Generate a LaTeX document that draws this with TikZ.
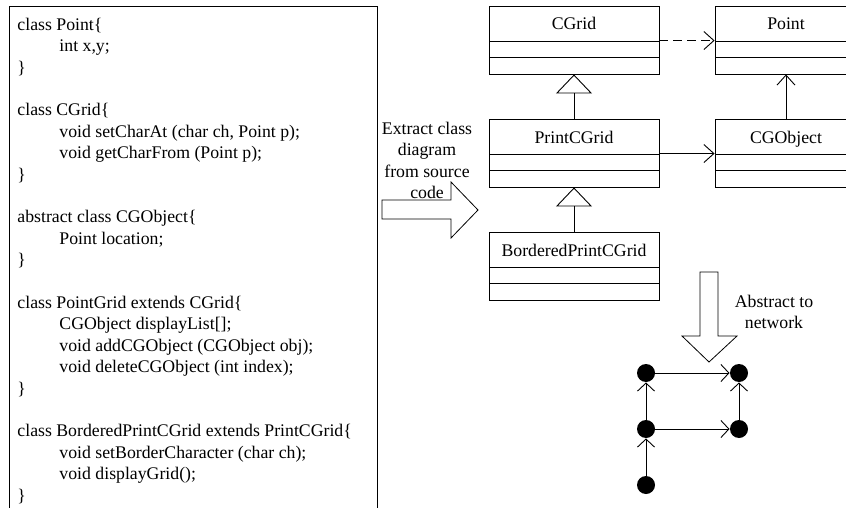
\documentclass[tikz,border=0pt]{standalone}
\usepackage{fontspec}
\setmainfont{Liberation Serif}
\usetikzlibrary{positioning, arrows.meta}
\tikzset{
  umlclass/.style={draw, minimum width=170pt, minimum height=68pt, inner ysep=0pt,
    text height=24pt, text depth=44pt, % puts the class name in the top part
    path picture={
      \draw ([yshift=-35pt]path picture bounding box.north west) -- ([yshift=-35pt]path picture bounding box.north east);
      \draw ([yshift=-51pt]path picture bounding box.north west) -- ([yshift=-51pt]path picture bounding box.north east);
    }},
  narrow/.style={minimum width=142pt}, % the two classes on the right
  vertex/.style={circle, fill=black, minimum size=18pt, inner sep=0pt},
  assoc/.style={-{Straight Barb[length=10pt, width=18pt]}}, % open arrow head
  inherit/.style={-{Triangle[open, length=19pt, width=36pt]}}, % generalisation
  netedge/.style={-{Straight Barb[length=8pt, width=17pt]}},
  blockarrow/.style={draw, line width=0.8pt, fill=white},
}

\begin{document}
\begin{tikzpicture}[x=1pt, y=-1pt, line width=0.9pt, on grid,
  every node/.style={font=\fontsize{17.75pt}{21.4pt}\selectfont}]
  \useasboundingbox (0,0) rectangle (846,508);

  % source code
  \draw (9,6) rectangle (377,530);
  \node[anchor=north west, inner sep=0pt, align=left] (code) at (17,17.5) {%
    class Point\{\\
    \hspace*{42pt}int x,y;\\
    \}\\
    \mbox{}\\
    class CGrid\{\\
    \hspace*{42pt}void setCharAt (char ch, Point p);\\
    \hspace*{42pt}void getCharFrom (Point p);\\
    \}\\
    \mbox{}\\
    abstract class CGObject\{\\
    \hspace*{42pt}Point location;\\
    \}\\
    \mbox{}\\
    class PointGrid extends CGrid\{\\
    \hspace*{42pt}CGObject displayList[];\\
    \hspace*{42pt}void addCGObject (CGObject obj);\\
    \hspace*{42pt}void deleteCGObject (int index);\\
    \}\\
    \mbox{}\\
    class BorderedPrintCGrid extends PrintCGrid\{\\
    \hspace*{42pt}void setBorderCharacter (char ch);\\
    \hspace*{42pt}void displayGrid();\\
    \}};

  % extract step
  \node[anchor=north, inner sep=0pt, align=center] (extract) at (427,121.5)
    {Extract class\\diagram\\from source\\code};
  \draw[blockarrow] (382,200) -- (451,200) -- (451,182) -- (478,210)
    -- (451,238) -- (451,219) -- (382,219) -- cycle;

  % class diagram
  \node[umlclass] (cgrid) at (574,40) {CGrid};
  \node[umlclass, narrow, right=212pt of cgrid] (point) {Point};
  \node[umlclass, below=113pt of cgrid] (printcgrid) {PrintCGrid};
  \node[umlclass, narrow, right=212pt of printcgrid] (cgobject) {CGObject};
  \node[umlclass, below=113pt of printcgrid] (bordered) {BorderedPrintCGrid};

  \draw[assoc, dash pattern=on 9pt off 5pt] ([yshift=-35pt]cgrid.north east) -- ([yshift=-35pt]point.north west);
  \draw[assoc] ([yshift=-35pt]printcgrid.north east) -- ([yshift=-35pt]cgobject.north west);
  \draw[assoc] (cgobject) -- (point);
  \draw[inherit] (printcgrid) -- (cgrid);
  \draw[inherit] (bordered) -- (printcgrid);

  % abstract step
  \draw[blockarrow] (700,272) -- (718,272) -- (718,336) -- (737,336)
    -- (709,362) -- (682,336) -- (700,336) -- cycle;
  \node[anchor=north, inner sep=0pt, align=center] (abstract) at (774,294.5)
    {Abstract to\\network};

  % network
  \node[vertex] (v1) at (646,373) {};
  \node[vertex, right=93pt of v1] (v2) {};
  \node[vertex, below=56pt of v1] (v3) {};
  \node[vertex, right=93pt of v3] (v4) {};
  \node[vertex, below=56pt of v3] (v5) {};

  \draw[netedge] (v3) -- (v1);
  \draw[netedge] (v5) -- (v3);
  \draw[netedge] (v1) -- (v2);
  \draw[netedge] (v3) -- (v4);
  \draw[netedge] (v4) -- (v2);
\end{tikzpicture}
\end{document}
